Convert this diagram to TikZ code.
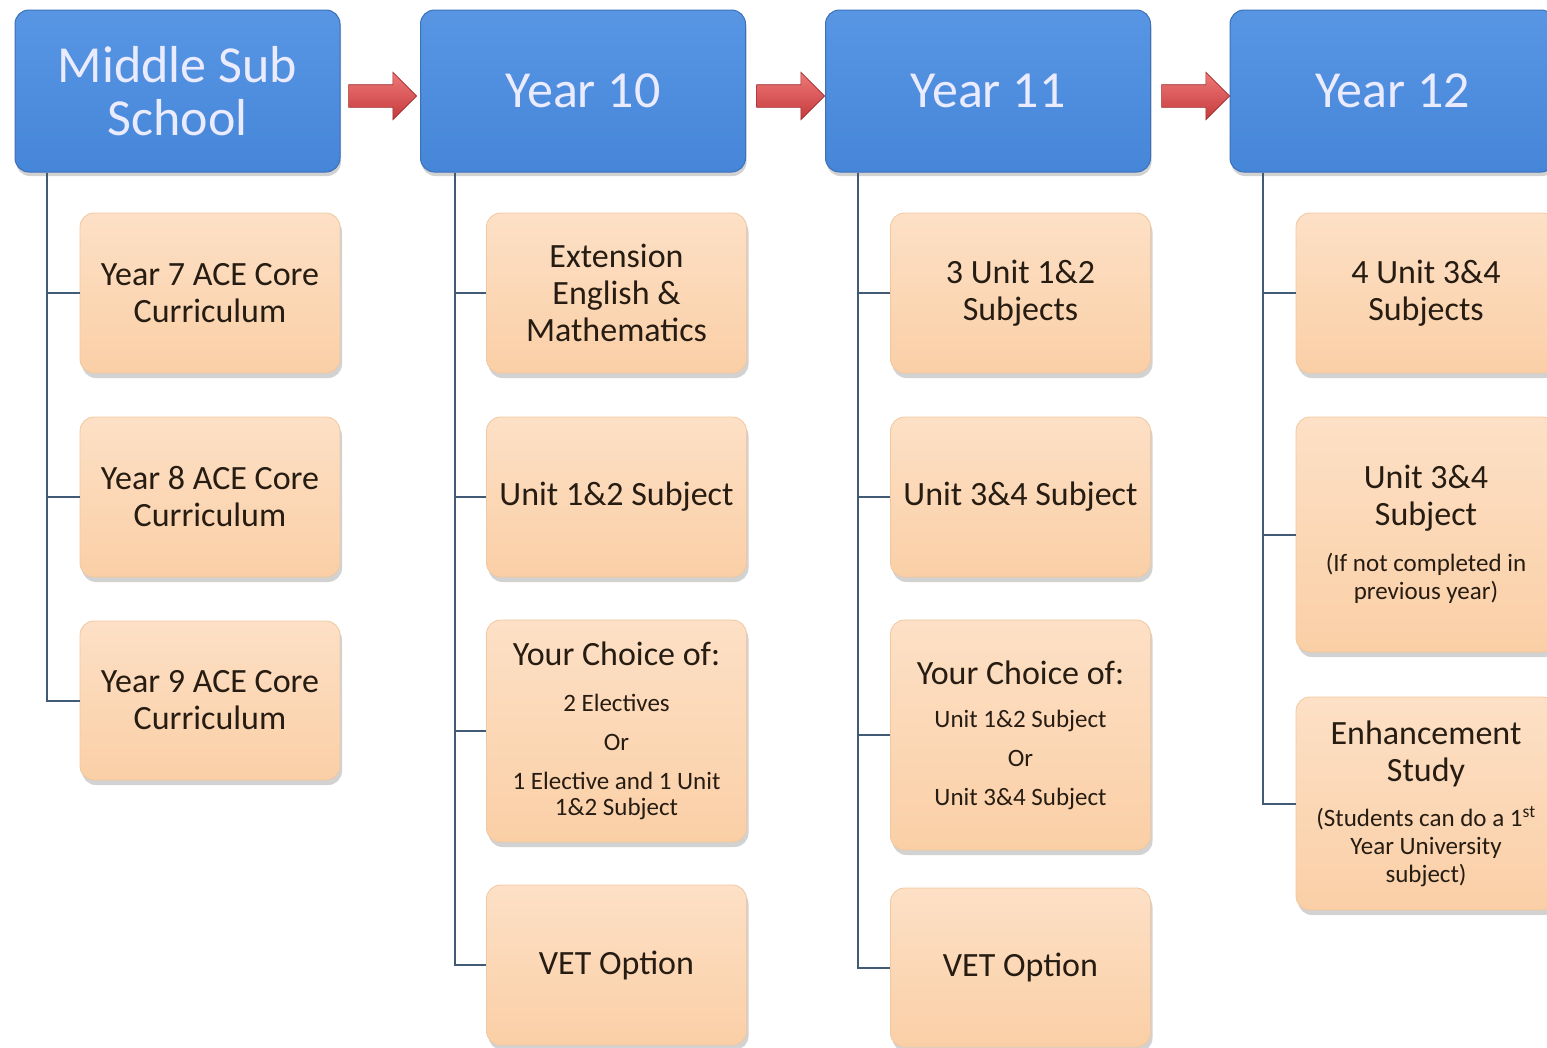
\documentclass[tikz,border=0pt]{standalone}
\usepackage{fontspec}
\setmainfont{Carlito}
\usetikzlibrary{shapes.arrows,shadows,calc}
\definecolor{hdrtop}{RGB}{88,150,228}
\definecolor{hdrbot}{RGB}{70,134,216}
\definecolor{hdrline}{RGB}{60,112,185}
\definecolor{subtop}{RGB}{253,224,198}
\definecolor{subbot}{RGB}{250,207,166}
\definecolor{subline}{RGB}{240,200,160}
\definecolor{conncol}{RGB}{66,90,118}
\definecolor{arrtop}{RGB}{240,120,120}
\definecolor{arrbot}{RGB}{196,58,60}
\definecolor{txtcol}{RGB}{38,28,18}
\newcommand\bigtxt{\fontsize{52}{55}\selectfont}
\newcommand\midtxt{\fontsize{34}{37}\selectfont}
\newcommand\smtxt{\fontsize{25}{28}\selectfont}
\tikzset{
  hdr/.style={draw=hdrline, line width=1pt, rounded corners=14pt,
    top color=hdrtop, bottom color=hdrbot,
    minimum width=325pt, minimum height=162pt, inner sep=0pt,
    align=center, text=white!92!blue, font=\bigtxt,
    drop shadow={shadow xshift=1pt, shadow yshift=-4pt, opacity=0.35}},
  sub/.style={draw=subline, line width=0.8pt, rounded corners=14pt,
    top color=subtop, bottom color=subbot,
    minimum width=260pt, inner sep=0pt,
    align=center, text=txtcol, font=\midtxt,
    drop shadow={shadow xshift=2pt, shadow yshift=-5pt, opacity=0.35}},
  conn/.style={draw=conncol, line width=2pt},
  arr/.style={single arrow, draw=arrbot!80!black, line width=0.6pt,
    top color=arrtop, bottom color=arrbot,
    minimum height=68pt, inner xsep=0pt, inner ysep=11pt,
    single arrow head extend=12.5pt, single arrow tip angle=90}
}
\begin{document}
\begin{tikzpicture}[x=1pt,y=-1pt]
\useasboundingbox (0,0) rectangle (1547,1047);
\fill[white] (0,0) rectangle (1547,1047);
% headers
\node[hdr] (h1) at (177.5,91) {Middle Sub\\[-2pt]School};
\node[hdr] (h2) at (583,91) {Year 10};
\node[hdr] (h3) at (988,91) {Year 11};
\node[hdr] (h4) at (1392.5,91) {Year 12};
% arrows
\node[arr] (a1) at (377,96) {};
\node[arr] (a2) at (785,96) {};
\node[arr] (a3) at (1190,96) {};
% column 1
\node[sub, minimum height=160pt] (s11) at (210,293) {Year 7 ACE Core\\Curriculum};
\node[sub, minimum height=160pt] (s12) at (210,497) {Year 8 ACE Core\\Curriculum};
\node[sub, minimum height=159pt] (s13) at (210,700.5) {Year 9 ACE Core\\Curriculum};
% column 2
\node[sub, minimum height=160pt] (s21) at (616.5,293) {Extension\\English \&\\Mathematics};
\node[sub, minimum height=160pt] (s22) at (616.5,497) {Unit 1\&2 Subject};
\node[sub, minimum height=222pt] (s23) at (616.5,731) {Your Choice of:\\[9pt]
  {\smtxt 2 Electives}\\[2pt]{\smtxt Or}\\[2pt]{\smtxt 1 Elective and 1 Unit}\\[-11pt]{\smtxt 1\&2 Subject}};
\node[sub, minimum height=160pt] (s24) at (616.5,965) {VET Option};
% column 3
\node[sub, minimum height=160pt] (s31) at (1020.5,293) {3 Unit 1\&2\\Subjects};
\node[sub, minimum height=160pt] (s32) at (1020.5,497) {Unit 3\&4 Subject};
\node[sub, minimum height=230pt] (s33) at (1020.5,735) {Your Choice of:\\[6pt]
  {\smtxt Unit 1\&2 Subject}\\[2pt]{\smtxt Or}\\[2pt]{\smtxt Unit 3\&4 Subject}};
\node[sub, minimum height=159pt] (s34) at (1020.5,967.5) {VET Option};
% column 4
\node[sub, minimum height=160pt] (s41) at (1426,293) {4 Unit 3\&4\\Subjects};
\node[sub, minimum height=235pt] (s42) at (1426,534.5) {Unit 3\&4\\Subject\\[9pt]
  {\smtxt (If not completed in}\\[-9pt]{\smtxt previous year)}};
\node[sub, minimum height=213pt] (s43) at (1426,803.5) {Enhancement\\Study\\[8pt]
  {\smtxt (Students can do a 1\textsuperscript{st}}\\[-9pt]{\smtxt Year University}\\[-9pt]{\smtxt subject)}};
% connectors
\foreach \s in {s11,s12,s13}
  \draw[conn] ([xshift=32pt]h1.south west) |- (\s.west);
\foreach \s in {s21,s22,s23,s24}
  \draw[conn] ([xshift=35pt]h2.south west) |- (\s.west);
\foreach \s in {s31,s32,s33,s34}
  \draw[conn] ([xshift=33pt]h3.south west) |- (\s.west);
\foreach \s in {s41,s42,s43}
  \draw[conn] ([xshift=33pt]h4.south west) |- (\s.west);
\end{tikzpicture}
\end{document}
